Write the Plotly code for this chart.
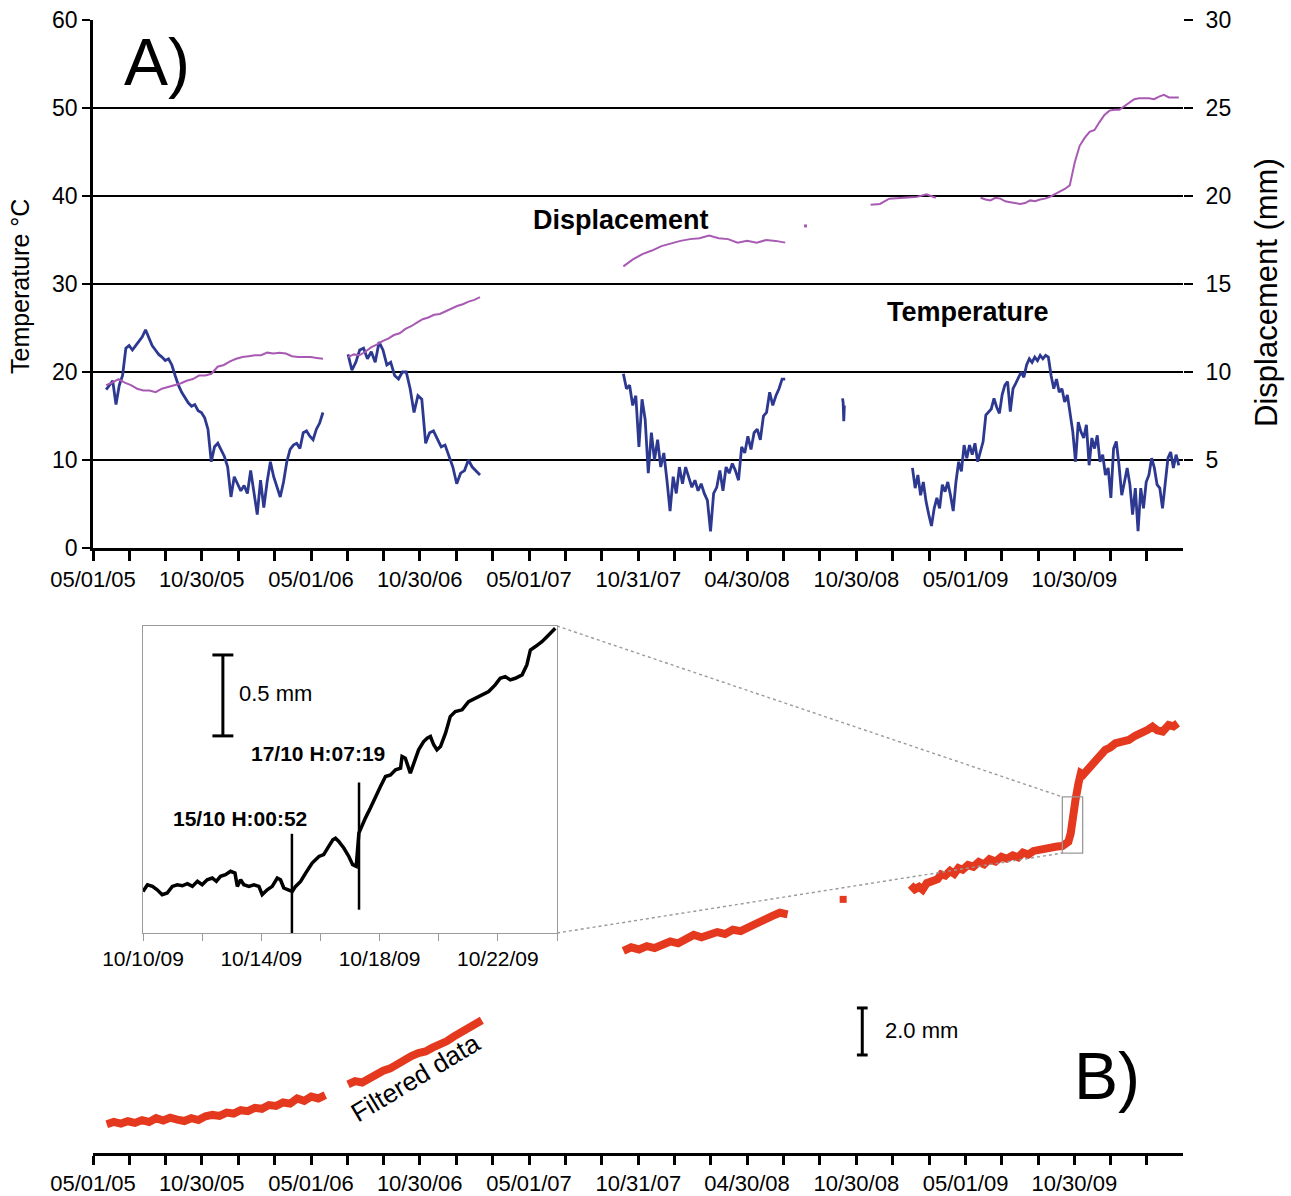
import pandas as pd
import plotly.graph_objects as go

W, H = 1291, 1196
FONT = "Liberation Sans, Arial, Helvetica, sans-serif"

# ---------------- DATA ----------------
# Panel A - temperature (deg C), segments of regularly sampled readings
temp1_span = ("2005-05-23", "2006-05-21")
temp1 = [18.0, 18.5, 19.0, 16.3, 18.5, 19.6, 22.7, 23.0, 22.5, 23.0, 23.5, 24.0, 24.8, 23.8, 23.0,
         22.5, 22.0, 21.7, 21.3, 21.5, 20.8, 19.6, 18.5, 17.7, 17.1, 16.5, 16.1, 16.3, 15.6, 15.4,
         14.8, 13.5, 9.8, 11.5, 11.9, 11.2, 10.4, 9.2, 5.8, 8.1, 7.3, 6.5, 7.1, 6.2, 8.8, 6.2, 3.8,
         7.7, 4.6, 7.5, 9.8, 8.1, 6.9, 5.8, 7.5, 9.8, 11.2, 11.7, 11.9, 11.3, 13.1, 13.3, 12.7,
         12.3, 13.5, 14.2, 15.4]
temp2_span = ("2006-07-02", "2007-02-08")
temp2 = [22.0, 20.2, 21.1, 22.5, 22.7, 21.5, 22.3, 21.1, 23.4, 22.5, 20.8, 21.1, 19.6, 19.2, 20.0,
         20.0, 18.1, 15.4, 17.3, 16.9, 11.9, 13.1, 13.3, 12.3, 11.5, 11.7, 10.4, 9.2, 7.3, 8.5,
         8.8, 10.0, 9.2, 8.8, 8.3]
temp3_span = ("2007-10-06", "2008-07-03")
temp3 = [19.8, 18.1, 18.5, 16.2, 17.3, 11.5, 16.9, 14.6, 8.5, 13.1, 10.0, 12.3, 9.2, 10.8, 7.7,
         4.2, 8.1, 6.2, 9.2, 7.3, 9.2, 8.1, 6.9, 7.7, 6.5, 7.3, 6.2, 5.4, 1.9, 6.2, 6.9, 8.8, 6.5,
         9.2, 8.5, 9.6, 8.8, 7.7, 11.5, 10.8, 12.7, 11.2, 13.1, 13.5, 12.3, 15.0, 15.4, 17.7, 16.2,
         17.3, 18.1, 19.2, 19.2]
temp4_span = ("2008-10-07", "2008-10-10")
temp4 = [17.0, 16.5, 14.4, 16.2]
temp5_span = ("2009-02-01", "2010-04-23")
temp5 = [9.1, 6.8, 8.3, 6.0, 7.5, 5.3, 3.8, 2.5, 4.5, 5.7, 4.5, 7.2, 6.4, 7.5, 6.0, 4.2, 7.5, 9.8,
         8.7, 11.7, 10.2, 11.7, 10.6, 11.9, 9.8, 11.1, 12.1, 15.1, 15.5, 15.8, 17.0, 16.0, 15.3,
         17.4, 18.5, 18.9, 15.5, 18.1, 18.7, 19.4, 20.0, 19.4, 20.8, 21.5, 21.1, 21.7, 21.3, 21.9,
         21.5, 21.9, 21.7, 19.6, 18.1, 19.2, 17.7, 18.1, 16.6, 17.4, 15.1, 13.2, 9.8, 14.3, 13.2,
         12.5, 14.0, 9.4, 12.5, 11.3, 12.8, 9.8, 10.6, 8.3, 9.1, 5.7, 11.3, 12.1, 9.4, 6.0, 7.5,
         9.1, 7.2, 3.8, 6.8, 1.9, 6.8, 4.5, 7.5, 8.3, 10.2, 9.1, 7.2, 6.8, 4.5, 7.5, 10.2, 10.9,
         9.1, 10.6, 9.4]

# Panel A - displacement (mm, right axis)
disp1_span = ("2005-05-23", "2006-05-21")
disp1 = [9.25, 9.4, 9.6, 9.4, 9.25, 9.05, 8.95, 8.95, 8.85, 9.05, 9.15, 9.25, 9.35, 9.5, 9.6, 9.8,
         9.8, 9.9, 10.3, 10.4, 10.6, 10.75, 10.85, 10.9, 10.95, 10.95, 11.1, 11.05, 11.1, 11.05,
         10.9, 10.85, 10.85, 10.85, 10.8, 10.75]
disp2_span = ("2006-07-02", "2007-02-08")
disp2 = [10.85, 11.0, 10.95, 11.15, 11.4, 11.55, 11.75, 11.9, 12.1, 12.2, 12.45, 12.6, 12.8, 13.0,
         13.1, 13.25, 13.3, 13.45, 13.6, 13.75, 13.85, 14.0, 14.1, 14.25]
disp3_span = ("2007-10-06", "2008-07-03")
disp3 = [16.0, 16.4, 16.7, 16.9, 17.15, 17.3, 17.45, 17.55, 17.6, 17.75, 17.6, 17.55, 17.35, 17.45,
         17.35, 17.5, 17.45, 17.35]
disp4_date = ["2008-08-06"]
disp4 = [18.3]
disp5_span = ("2008-11-23", "2009-03-12")
disp5 = [19.5, 19.55, 19.85, 19.9, 19.92, 19.95, 20.1, 19.9]
disp6_span = ("2009-05-26", "2010-04-23")
disp6 = [19.9, 19.8, 19.75, 19.9, 19.85, 19.7, 19.65, 19.6, 19.55, 19.6, 19.75, 19.7, 19.8, 19.85,
         19.95, 20.1, 20.25, 20.4, 20.6, 21.9, 22.85, 23.3, 23.65, 23.75, 24.2, 24.6, 24.85, 24.9,
         24.9, 25.1, 25.35, 25.5, 25.55, 25.55, 25.55, 25.5, 25.65, 25.75, 25.6, 25.6, 25.6]

# Panel B - filtered displacement (mm, relative)
filt1_span = ("2005-05-24", "2006-05-25")
filt1 = [1.52, 1.62, 1.55, 1.65, 1.58, 1.70, 1.62, 1.78, 1.68, 1.80, 1.72, 1.66, 1.78, 1.70, 1.86,
         1.92, 1.88, 2.02, 1.98, 2.12, 2.08, 2.22, 2.18, 2.34, 2.30, 2.45, 2.40, 2.62, 2.52, 2.70,
         2.62, 2.76]
filt2_span = ("2006-07-02", "2007-02-11")
filt2 = [3.22, 3.36, 3.30, 3.48, 3.62, 3.80, 3.90, 4.10, 4.20, 4.42, 4.55, 4.62, 4.78, 4.90, 5.05,
         5.25, 5.45, 5.62, 5.82, 5.95]
filt3_span = ("2007-10-06", "2008-07-07")
filt3 = [8.90, 9.05, 8.96, 9.10, 9.02, 9.20, 9.30, 9.22, 9.45, 9.58, 9.48, 9.55, 9.70, 9.62, 9.80,
         9.74, 9.92, 10.05, 10.22, 10.38, 10.52, 10.45]
filt4_date = ["2008-10-08"]
filt4 = [11.09]
filt5_dates = ["2009-01-29", "2009-02-05", "2009-02-12", "2009-02-18", "2009-02-25", "2009-03-07",
               "2009-03-15", "2009-03-21", "2009-03-28", "2009-04-05", "2009-04-12", "2009-04-19",
               "2009-04-26", "2009-05-05", "2009-05-14", "2009-05-23", "2009-06-01", "2009-06-10",
               "2009-06-20", "2009-06-30", "2009-07-09", "2009-07-19", "2009-07-28", "2009-08-05",
               "2009-08-14", "2009-08-23", "2009-09-02", "2009-09-12", "2009-09-21", "2009-10-01",
               "2009-10-10", "2009-10-15", "2009-10-20", "2009-10-24", "2009-10-27", "2009-11-01",
               "2009-11-06", "2009-11-10", "2009-11-14", "2009-11-18", "2009-11-24", "2009-11-30",
               "2009-12-05", "2009-12-10", "2009-12-15", "2009-12-21", "2009-12-29", "2010-01-07",
               "2010-01-18", "2010-01-29", "2010-02-09", "2010-02-21", "2010-03-02", "2010-03-10",
               "2010-03-18", "2010-03-27", "2010-04-06", "2010-04-14", "2010-04-21"]
filt5 = [11.70, 11.52, 11.62, 11.50, 11.78, 11.84, 11.95, 12.15, 12.10, 12.30, 12.18, 12.42, 12.35,
         12.55, 12.48, 12.68, 12.58, 12.80, 12.70, 12.90, 12.82, 12.96, 12.88, 13.08, 13.00, 13.15,
         13.22, 13.26, 13.30, 13.34, 13.36, 13.42, 13.54, 13.90, 14.61, 15.32, 16.03, 16.46, 16.40,
         16.52, 16.62, 16.81, 16.95, 17.16, 17.25, 17.45, 17.55, 17.73, 17.80, 17.87, 18.05, 18.16,
         18.30, 18.44, 18.28, 18.23, 18.51, 18.45, 18.58]

# Inset - zoom of October 2009 (day of month, mm relative)
inset_day = [10.00, 10.15, 10.32, 10.48, 10.65, 10.82, 10.99, 11.16, 11.33, 11.50, 11.67, 11.84,
             12.00, 12.17, 12.34, 12.48, 12.62, 12.79, 12.96, 13.11, 13.19, 13.30, 13.41, 13.58,
             13.75, 13.92, 14.03, 14.20, 14.37, 14.54, 14.65, 14.76, 14.91, 15.05, 15.16, 15.33,
             15.50, 15.72, 15.95, 16.11, 16.28, 16.42, 16.51, 16.62, 16.79, 16.96, 17.09, 17.21,
             17.30, 17.39, 17.52, 17.69, 17.86, 18.03, 18.20, 18.37, 18.54, 18.71, 18.76, 18.87,
             19.04, 19.16, 19.32, 19.49, 19.61, 19.72, 19.83, 19.94, 20.06, 20.23, 20.39, 20.56,
             20.79, 21.01, 21.24, 21.46, 21.69, 21.91, 22.08, 22.25, 22.42, 22.59, 22.82, 22.98,
             23.10, 23.27, 23.49, 23.66, 23.83, 23.94]
inset_mm = [0.257, 0.298, 0.288, 0.267, 0.237, 0.247, 0.288, 0.298, 0.292, 0.305, 0.288, 0.319,
            0.298, 0.329, 0.340, 0.319, 0.350, 0.360, 0.381, 0.370, 0.288, 0.329, 0.298, 0.288,
            0.298, 0.288, 0.237, 0.267, 0.288, 0.340, 0.329, 0.278, 0.267, 0.257, 0.288, 0.319,
            0.370, 0.432, 0.473, 0.484, 0.535, 0.576, 0.586, 0.566, 0.525, 0.473, 0.422, 0.412,
            0.617, 0.658, 0.710, 0.772, 0.844, 0.905, 0.967, 0.977, 1.008, 1.019, 1.091, 1.080,
            0.988, 1.049, 1.132, 1.183, 1.204, 1.214, 1.163, 1.132, 1.152, 1.235, 1.337, 1.368,
            1.379, 1.430, 1.451, 1.471, 1.492, 1.533, 1.574, 1.584, 1.564, 1.574, 1.595, 1.656,
            1.749, 1.770, 1.800, 1.831, 1.862, 1.883]
event_times = ["2009-10-15 00:52", "2009-10-17 07:19"]
event_labels = ["15/10 H:00:52", "17/10 H:07:19"]
event_extent = [(0.0, 0.613), (0.144, 0.93)]

# Tick labels
main_tick_dates = ["2005-05-01", "2005-10-30", "2006-05-01", "2006-10-30", "2007-05-01",
                   "2007-10-31", "2008-04-30", "2008-10-30", "2009-05-01", "2009-10-30"]
main_tick_text = ["05/01/05", "10/30/05", "05/01/06", "10/30/06", "05/01/07",
                  "10/31/07", "04/30/08", "10/30/08", "05/01/09", "10/30/09"]
inset_tick_dates = ["2009-10-10", "2009-10-14", "2009-10-18", "2009-10-22"]
inset_tick_text = ["10/10/09", "10/14/09", "10/18/09", "10/22/09"]

# ---------------- LAYOUT HELPERS ----------------
def px(x):
    return x / W


def py(y):
    return 1 - y / H


BLUE = "#2D3990"
PURPLE = "#A85AB3"
RED = "#E5391F"
GRAY = "#9A9A9A"

X_RANGE = ["2005-05-01", "2010-04-30"]
XDOM = [px(93), px(1183)]
YDOM_A = [py(548), py(20)]
YDOM_B = [py(1153), py(610)]
B_RANGE = [0.3, 23.4]
XDOM_I = [px(143), px(557)]
YDOM_I = [py(933), py(626)]
I_RANGE = ["2009-10-10", "2009-10-24"]
I_YRANGE = [0, 1.897]

# main tick positions: labelled ticks plus two unlabelled between each pair
ts = [pd.Timestamp(d) for d in main_tick_dates]
tickvals, ticktext = [], []
for i in range(len(ts) - 1):
    a, b = ts[i], ts[i + 1]
    tickvals += [a, a + (b - a) / 3, a + 2 * (b - a) / 3]
    ticktext += [main_tick_text[i], "", ""]
step = (ts[-1] - ts[-2]) / 3
tickvals += [ts[-1], ts[-1] + step, ts[-1] + 2 * step]
ticktext += [main_tick_text[-1], "", ""]

its = [pd.Timestamp(d) for d in inset_tick_dates]
itickvals, itickText = [], []
for i, t in enumerate(its):
    itickvals += [t, t + pd.Timedelta(days=2)]
    itickText += [inset_tick_text[i], ""]


def span_dates(span, n):
    return pd.date_range(span[0], span[1], periods=n)


fig = go.Figure()

# Panel A temperature
for span, vals in [(temp1_span, temp1), (temp2_span, temp2), (temp3_span, temp3),
                   (temp4_span, temp4), (temp5_span, temp5)]:
    fig.add_trace(go.Scatter(x=span_dates(span, len(vals)), y=vals, mode="lines",
                             line=dict(color=BLUE, width=2.8), xaxis="x", yaxis="y",
                             showlegend=False))
# Panel A displacement
for span, vals in [(disp1_span, disp1), (disp2_span, disp2), (disp3_span, disp3),
                   (disp5_span, disp5), (disp6_span, disp6)]:
    fig.add_trace(go.Scatter(x=span_dates(span, len(vals)), y=vals, mode="lines",
                             line=dict(color=PURPLE, width=2), xaxis="x", yaxis="y2",
                             showlegend=False))
fig.add_trace(go.Scatter(x=disp4_date, y=disp4, mode="markers",
                         marker=dict(color=PURPLE, size=3, symbol="square"),
                         xaxis="x", yaxis="y2", showlegend=False))

# Panel B filtered data
for span, vals in [(filt1_span, filt1), (filt2_span, filt2), (filt3_span, filt3)]:
    fig.add_trace(go.Scatter(x=span_dates(span, len(vals)), y=vals, mode="lines",
                             line=dict(color=RED, width=8), xaxis="x2", yaxis="y3",
                             showlegend=False))
fig.add_trace(go.Scatter(x=filt5_dates, y=filt5, mode="lines",
                         line=dict(color=RED, width=8), xaxis="x2", yaxis="y3",
                         showlegend=False))
fig.add_trace(go.Scatter(x=filt4_date, y=filt4, mode="markers",
                         marker=dict(color=RED, size=7, symbol="square"),
                         xaxis="x2", yaxis="y3", showlegend=False))

# Inset
inset_x = [pd.Timestamp("2009-10-01") + pd.Timedelta(days=d - 1) for d in inset_day]
fig.add_trace(go.Scatter(x=inset_x, y=inset_mm, mode="lines",
                         line=dict(color="black", width=3.5), xaxis="x3", yaxis="y4",
                         showlegend=False))

shapes = []
for t, (y0, y1) in zip(event_times, event_extent):
    shapes.append(dict(type="line", xref="x3", yref="y4", x0=t, x1=t, y0=y0, y1=y1,
                       line=dict(color="black", width=2.5)))


# scale bars (I-shaped)
def scale_bar(xref, yref, xc, half, y0, length):
    xc = pd.Timestamp(xc)
    out = [dict(type="line", xref=xref, yref=yref, x0=xc, x1=xc, y0=y0, y1=y0 + length,
                line=dict(color="black", width=3))]
    for yy in (y0, y0 + length):
        out.append(dict(type="line", xref=xref, yref=yref, x0=xc - half, x1=xc + half,
                        y0=yy, y1=yy, line=dict(color="black", width=3)))
    return out


shapes += scale_bar("x3", "y4", "2009-10-12 16:50", pd.Timedelta(hours=8.5), 1.218, 0.5)
shapes += scale_bar("x2", "y3", "2008-11-09", pd.Timedelta(days=9), 4.47, 2.0)

# zoom box on panel B
box_x = ("2009-10-10", "2009-11-13")
box_y = (13.06, 15.45)
shapes.append(dict(type="rect", xref="x2", yref="y3", x0=box_x[0], x1=box_x[1],
                   y0=box_y[0], y1=box_y[1], line=dict(color=GRAY, width=1.3)))


def x2paper(d):
    r0, r1 = pd.Timestamp(X_RANGE[0]), pd.Timestamp(X_RANGE[1])
    return XDOM[0] + (pd.Timestamp(d) - r0) / (r1 - r0) * (XDOM[1] - XDOM[0])


def y3paper(v):
    return YDOM_B[0] + (v - B_RANGE[0]) / (B_RANGE[1] - B_RANGE[0]) * (YDOM_B[1] - YDOM_B[0])


for yi, yb in ((YDOM_I[1], box_y[1]), (YDOM_I[0], box_y[0])):
    shapes.append(dict(type="line", xref="paper", yref="paper", x0=XDOM_I[1], y0=yi,
                       x1=x2paper(box_x[0]), y1=y3paper(yb),
                       line=dict(color=GRAY, width=1.4, dash="dot")))

ann = []


def text(x, y, s, size, bold=False, angle=0, xanchor="center"):
    ann.append(dict(x=px(x), y=py(y), xref="paper", yref="paper", text=f"<b>{s}</b>" if bold else s,
                    showarrow=False, textangle=angle, xanchor=xanchor, yanchor="middle",
                    font=dict(family=FONT, size=size, color="black")))


text(157, 62, "A)", 66)
text(1107, 1076, "B)", 66)
text(621, 220, "Displacement", 27, bold=True)
text(968, 312, "Temperature", 27, bold=True)
text(20, 287, "Temperature °C", 25, angle=-90)
text(1266, 293, "Displacement (mm)", 31, angle=-90)
text(415, 1078, "Filtered data", 26, angle=-31)
text(237, 694, "0.5 mm", 22, xanchor="left")
text(883, 1030, "2.0 mm", 22, xanchor="left")
text(240, 818, event_labels[0], 21, bold=True)
text(318, 753, event_labels[1], 21, bold=True)

tickfont = dict(family=FONT, size=22, color="black")

fig.update_layout(
    width=W, height=H, margin=dict(l=0, r=0, t=0, b=0, pad=0, autoexpand=False),
    paper_bgcolor="white", plot_bgcolor="white", showlegend=False,
    shapes=shapes, annotations=ann,
    xaxis=dict(domain=XDOM, anchor="y", type="date", range=X_RANGE, tickvals=tickvals,
               ticktext=ticktext, ticks="outside", ticklen=10, tickwidth=2.5, tickcolor="black",
               showline=True, linewidth=3, linecolor="black", showgrid=False, zeroline=False,
               tickfont=tickfont, automargin=False),
    yaxis=dict(domain=YDOM_A, anchor="x", range=[0, 60], tickvals=[0, 10, 20, 30, 40, 50, 60],
               ticks="outside", ticklen=8, tickwidth=2, tickcolor="black", showline=True,
               linewidth=2.5, linecolor="black", showgrid=True, gridcolor="black", gridwidth=2,
               zeroline=False, tickfont=dict(family=FONT, size=23, color="black"),
               automargin=False),
    yaxis2=dict(overlaying="y", side="right", anchor="x", range=[0, 30],
                tickvals=[5, 10, 15, 20, 25, 30], ticks="outside", ticklen=9, tickwidth=2,
                tickcolor="black", showline=False, showgrid=False, zeroline=False,
                ticklabelstandoff=8,
                tickfont=dict(family=FONT, size=23, color="black"), automargin=False),
    xaxis2=dict(domain=XDOM, anchor="y3", type="date", range=X_RANGE, tickvals=tickvals,
                ticktext=ticktext, ticks="outside", ticklen=9, tickwidth=2.5, tickcolor="black",
                showline=True, linewidth=3, linecolor="black", showgrid=False, zeroline=False,
                tickfont=tickfont, automargin=False),
    yaxis3=dict(domain=YDOM_B, anchor="x2", range=B_RANGE, visible=False, automargin=False),
    xaxis3=dict(domain=XDOM_I, anchor="y4", type="date", range=I_RANGE, tickvals=itickvals,
                ticktext=itickText, ticks="outside", ticklen=7, tickwidth=1.3, tickcolor=GRAY,
                showline=True, mirror=True, linewidth=1.3, linecolor=GRAY, showgrid=False,
                zeroline=False, tickfont=dict(family=FONT, size=21, color="black"),
                automargin=False),
    yaxis4=dict(domain=YDOM_I, anchor="x3", range=I_YRANGE, showline=True, mirror=True,
                linewidth=1.3, linecolor=GRAY, showgrid=False, zeroline=False,
                showticklabels=False, ticks="", automargin=False),
)

fig.write_html("out.html", config={"displayModeBar": False},
               post_script="document.body.style.margin='0';document.body.style.overflow='hidden';")
